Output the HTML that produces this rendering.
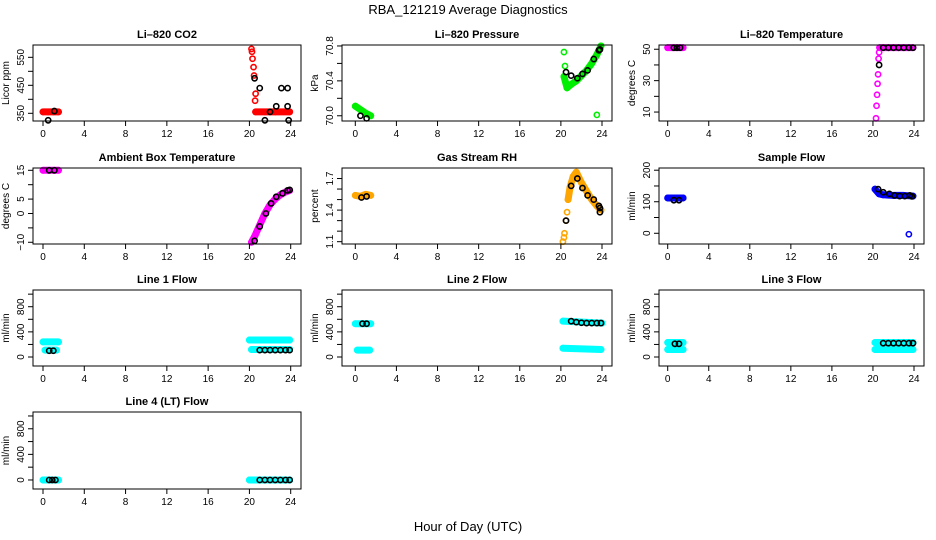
<!DOCTYPE html>
<html><head><meta charset="utf-8"><style>
body{margin:0;background:#fff;}
svg{display:block;font-family:"Liberation Sans",sans-serif;}
</style></head><body>
<svg id="c" width="936" height="540" viewBox="0 0 936 540">
<text x="468" y="14" text-anchor="middle" font-size="13">RBA_121219  Average Diagnostics</text>
<text x="468" y="531" text-anchor="middle" font-size="13">Hour of Day (UTC)</text>
</svg>
<script>
const xTicks=[0,4,8,12,16,20,24];
// CO2
const co2BandT=[[0,0.5,1,1.5],[20.6,21.5,22.5,23.9]];
const co2BandV=[[355,355,355,355],[355,355,355,355]];
const co2PtT=[20.2,20.25,20.3,20.4,20.45,20.55,20.6];
const co2PtV=[580,570,545,515,485,395,420];
const co2AvgT=[0.5,1.1,20.5,21.0,21.5,22.0,22.6,23.1,23.7,23.7,23.8];
const co2AvgV=[325,358,475,440,325,355,375,440,440,375,325];
// Pressure
const prBandT=[[0,0.5,1,1.5],[20.3,20.6,21,21.5,22,22.5,23,23.5,23.9]];
const prBandV=[[70.11,70.07,70.03,70.0],[70.45,70.32,70.36,70.4,70.46,70.52,70.6,70.7,70.8]];
const prPtT=[20.3,20.4,23.5];
const prPtV=[70.73,70.57,70.01];
const prAvgT=[0.5,1.1,20.5,21.0,21.6,22.1,22.6,23.2,23.7,23.8];
const prAvgV=[70.0,69.97,70.5,70.46,70.43,70.48,70.52,70.65,70.75,70.76];
// Li-820 temperature
const ltBandT=[[0,0.5,1,1.5],[20.65,21.5,22.5,23.9]];
const ltBandV=[[51,51,51,51],[51,51,51,51]];
const ltPtT=[20.3,20.35,20.4,20.45,20.5,20.55,20.6];
const ltPtV=[6,14,21,28,34,44,48];
const ltAvgT=[0.6,0.9,1.2,20.6,21,21.5,22,22.5,23,23.5,23.9];
const ltAvgV=[51,51,51,40,51,51,51,51,51,51,51];
// Ambient box temperature
const abBandT=[[0,0.5,1,1.5],[20.2,20.5,21,21.5,22,22.5,23,23.5,23.9]];
const abBandV=[[15,15,15,15],[-10,-8,-4,0,3,5,6.5,7.5,8]];
const abPtT=[];
const abPtV=[];
const abAvgT=[0.6,1.1,20.5,21,21.6,22.1,22.6,23.2,23.7,23.9];
const abAvgV=[15,15,-9.5,-4.5,0,3.5,5.8,7,8,8.2];
// Gas stream RH
const rhBandT=[[0,0.5,1,1.5],[20.7,20.9,21.2,21.5,22,22.5,23,23.5,23.9]];
const rhBandV=[[1.54,1.53,1.55,1.54],[1.5,1.62,1.72,1.76,1.66,1.58,1.5,1.44,1.4]];
const rhPtT=[20.2,20.3,20.35,20.5,20.6];
const rhPtV=[1.1,1.14,1.18,1.3,1.38];
const rhAvgT=[0.6,1.1,20.5,21,21.6,22.1,22.6,23.2,23.7,23.8,23.8];
const rhAvgV=[1.52,1.53,1.3,1.63,1.7,1.61,1.54,1.5,1.44,1.42,1.38];
// Sample flow
const sfBandT=[[0,0.5,1,1.5],[20.2,20.6,21,22,23,23.9]];
const sfBandV=[[112,112,112,112],[140,125,122,120,120,118]];
const sfPtT=[23.5];
const sfPtV=[-3];
const sfAvgT=[0.6,1.1,20.5,21,21.6,22.1,22.6,23.1,23.6,23.8];
const sfAvgV=[105,105,140,130,125,120,118,118,120,117];
// Line 1
const l1BandT=[[0,1.5],[0.2,1.3],[20,23.9],[20.2,23.9]];
const l1BandV=[[240,240],[110,110],[270,270],[120,120]];
const l1AvgT=[0.6,1.0,21,21.5,22,22.5,23,23.5,23.9];
const l1AvgV=[100,100,110,110,110,110,110,110,110];
// Line 2
const l2BandT=[[0,1.5],[0.2,1.4],[20.2,24],[20.2,23.9]];
const l2BandV=[[530,530],[110,110],[570,540],[140,120]];
const l2AvgT=[0.7,1.1,21,21.5,22,22.5,23,23.5,23.9];
const l2AvgV=[530,530,570,555,545,540,540,540,540];
// Line 3
const l3BandT=[[0,1.5],[0,1.5],[20.2,23.9],[20.2,23.9]];
const l3BandV=[[230,230],[120,120],[230,230],[120,120]];
const l3AvgT=[0.7,1.1,21,21.5,22,22.5,23,23.5,23.9];
const l3AvgV=[210,210,220,220,220,220,220,220,220];
// Line 4
const l4BandT=[[0,1.5],[20,23.9]];
const l4BandV=[[0,0],[0,0]];
const l4AvgT=[0.6,0.9,1.2,21,21.5,22,22.5,23,23.5,23.9];
const l4AvgV=[0,0,0,0,0,0,0,0,0,0];

const NS="http://www.w3.org/2000/svg";
const svg=document.getElementById('c');
function mk(tag,attrs,parent){const e=document.createElementNS(NS,tag);for(const k in attrs)e.setAttribute(k,attrs[k]);(parent||svg).appendChild(e);return e;}
const cols=[{l:33,r:301,x0:43,x24:290.7},{l:342,r:612,x0:355.3,x24:602},{l:659,r:924,x0:667.7,x24:914}];
const rows=[{t:45,b:121},{t:168,b:244},{t:290,b:366},{t:412,b:489}];
const panels=[
 {name:'li820-co2',title:'Li\u2013820 CO2',ylab:'Licor ppm',c:0,r:0,ymin:322.5,ymax:594,ticks:[350,400,450,500,550],labs:[350,450,550],col:'#ff0000',bT:co2BandT,bV:co2BandV,pT:co2PtT,pV:co2PtV,aT:co2AvgT,aV:co2AvgV},
 {name:'li820-pressure',title:'Li\u2013820 Pressure',ylab:'kPa',c:1,r:0,ymin:69.94,ymax:70.811,ticks:[70.0,70.2,70.4,70.6,70.8],labs:['70.0','70.4','70.8'],col:'#00ee00',bT:prBandT,bV:prBandV,pT:prPtT,pV:prPtV,aT:prAvgT,aV:prAvgV},
 {name:'li820-temperature',title:'Li\u2013820 Temperature',ylab:'degrees C',c:2,r:0,ymin:4.3,ymax:52.7,ticks:[10,20,30,40,50],labs:[10,30,50],col:'#ff00ff',bT:ltBandT,bV:ltBandV,pT:ltPtT,pV:ltPtV,aT:ltAvgT,aV:ltAvgV},
 {name:'ambient-box-temperature',title:'Ambient Box Temperature',ylab:'degrees C',c:0,r:1,ymin:-10.6,ymax:15.8,ticks:[-10,-5,0,5,10,15],labs:[-10,0,5,15],col:'#ff00ff',bT:abBandT,bV:abBandV,pT:abPtT,pV:abPtV,aT:abAvgT,aV:abAvgV},
 {name:'gas-stream-rh',title:'Gas Stream RH',ylab:'percent',c:1,r:1,ymin:1.078,ymax:1.80,ticks:[1.1,1.2,1.3,1.4,1.5,1.6,1.7],labs:['1.1','1.4','1.7'],col:'#ffa500',bT:rhBandT,bV:rhBandV,pT:rhPtT,pV:rhPtV,aT:rhAvgT,aV:rhAvgV},
 {name:'sample-flow',title:'Sample Flow',ylab:'ml/min',c:2,r:1,ymin:-34,ymax:207,ticks:[0,50,100,150,200],labs:[0,100,200],col:'#0000ff',bT:sfBandT,bV:sfBandV,pT:sfPtT,pV:sfPtV,aT:sfAvgT,aV:sfAvgV},
 {name:'line-1-flow',title:'Line 1 Flow',ylab:'ml/min',c:0,r:2,ymin:-143,ymax:1066,ticks:[0,200,400,600,800,1000],labs:[0,400,800],col:'#00ffff',bT:l1BandT,bV:l1BandV,pT:[],pV:[],aT:l1AvgT,aV:l1AvgV},
 {name:'line-2-flow',title:'Line 2 Flow',ylab:'ml/min',c:1,r:2,ymin:-143,ymax:1066,ticks:[0,200,400,600,800,1000],labs:[0,400,800],col:'#00ffff',bT:l2BandT,bV:l2BandV,pT:[],pV:[],aT:l2AvgT,aV:l2AvgV},
 {name:'line-3-flow',title:'Line 3 Flow',ylab:'ml/min',c:2,r:2,ymin:-143,ymax:1066,ticks:[0,200,400,600,800,1000],labs:[0,400,800],col:'#00ffff',bT:l3BandT,bV:l3BandV,pT:[],pV:[],aT:l3AvgT,aV:l3AvgV},
 {name:'line-4-flow',title:'Line 4 (LT) Flow',ylab:'ml/min',c:0,r:3,ymin:-141,ymax:1062,ticks:[0,200,400,600,800,1000],labs:[0,400,800],col:'#00ffff',bT:l4BandT,bV:l4BandV,pT:[],pV:[],aT:l4AvgT,aV:l4AvgV}
];
panels.forEach(p=>{
 const C=cols[p.c],R=rows[p.r];
 const g=mk('g',{});
 
 
 const xs=t=>C.x0+(C.x24-C.x0)*t/24;
 const ys=v=>R.b-(v-p.ymin)/(p.ymax-p.ymin)*(R.b-R.t);
 const cx=(C.l+C.r)/2;
 const ti=mk('text',{x:cx,y:R.t-7,'text-anchor':'middle','font-size':'11','font-weight':'bold'},g);ti.textContent=p.title;
 
 
 // bands
 p.bT.forEach((seg,i)=>{
  const pts=seg.map((t,j)=>xs(t)+','+ys(p.bV[i][j])).join(' ');
  const pl=mk('polyline',{points:pts,fill:'none',stroke:p.col,'stroke-width':'7','stroke-linecap':'round','stroke-linejoin':'round'},g);
  
  
  seg.forEach((t,j)=>{
   const c=mk('circle',{cx:xs(t),cy:ys(p.bV[i][j]),r:2.6,fill:'none',stroke:p.col,'stroke-width':'1.6'},g);
   
   
  });
 });
 p.pT.forEach((t,j)=>{
  const c=mk('circle',{cx:xs(t),cy:ys(p.pV[j]),r:2.6,fill:'none',stroke:p.col,'stroke-width':'1.6'},g);
  
  
 });
 p.aT.forEach((t,j)=>{
  const c=mk('circle',{cx:xs(t),cy:ys(p.aV[j]),r:2.6,fill:'none',stroke:'#000','stroke-width':'1.6'},g);
  
  
 });
 const box=mk('rect',{x:C.l,y:R.t,width:C.r-C.l,height:R.b-R.t,fill:'none',stroke:'#000','stroke-width':'1'},g);
 
 
 xTicks.forEach(t=>{
  mk('line',{x1:xs(t),x2:xs(t),y1:R.b,y2:R.b+5,stroke:'#000'},g);
  const tx=mk('text',{x:xs(t),y:R.b+16,'text-anchor':'middle','font-size':'10'},g);tx.textContent=t;
  
  
 });
 p.ticks.forEach(v=>{mk('line',{x1:C.l-5,x2:C.l,y1:ys(v),y2:ys(v),stroke:'#000'},g);});
 p.labs.forEach(v=>{
  const y=ys(+v),x=C.l-9;
  const tx=mk('text',{x:x,y:y,'text-anchor':'middle','font-size':'10',transform:'rotate(-90 '+x+' '+y+')'},g);tx.textContent=String(v).replace('-','\u2212');
  
  
 });
 const yl=C.l-24,ym=(R.t+R.b)/2;
 const lt=mk('text',{x:yl,y:ym,'text-anchor':'middle','font-size':'10',transform:'rotate(-90 '+yl+' '+ym+')'},g);lt.textContent=p.ylab;
 
 
});
</script>
</body></html>
